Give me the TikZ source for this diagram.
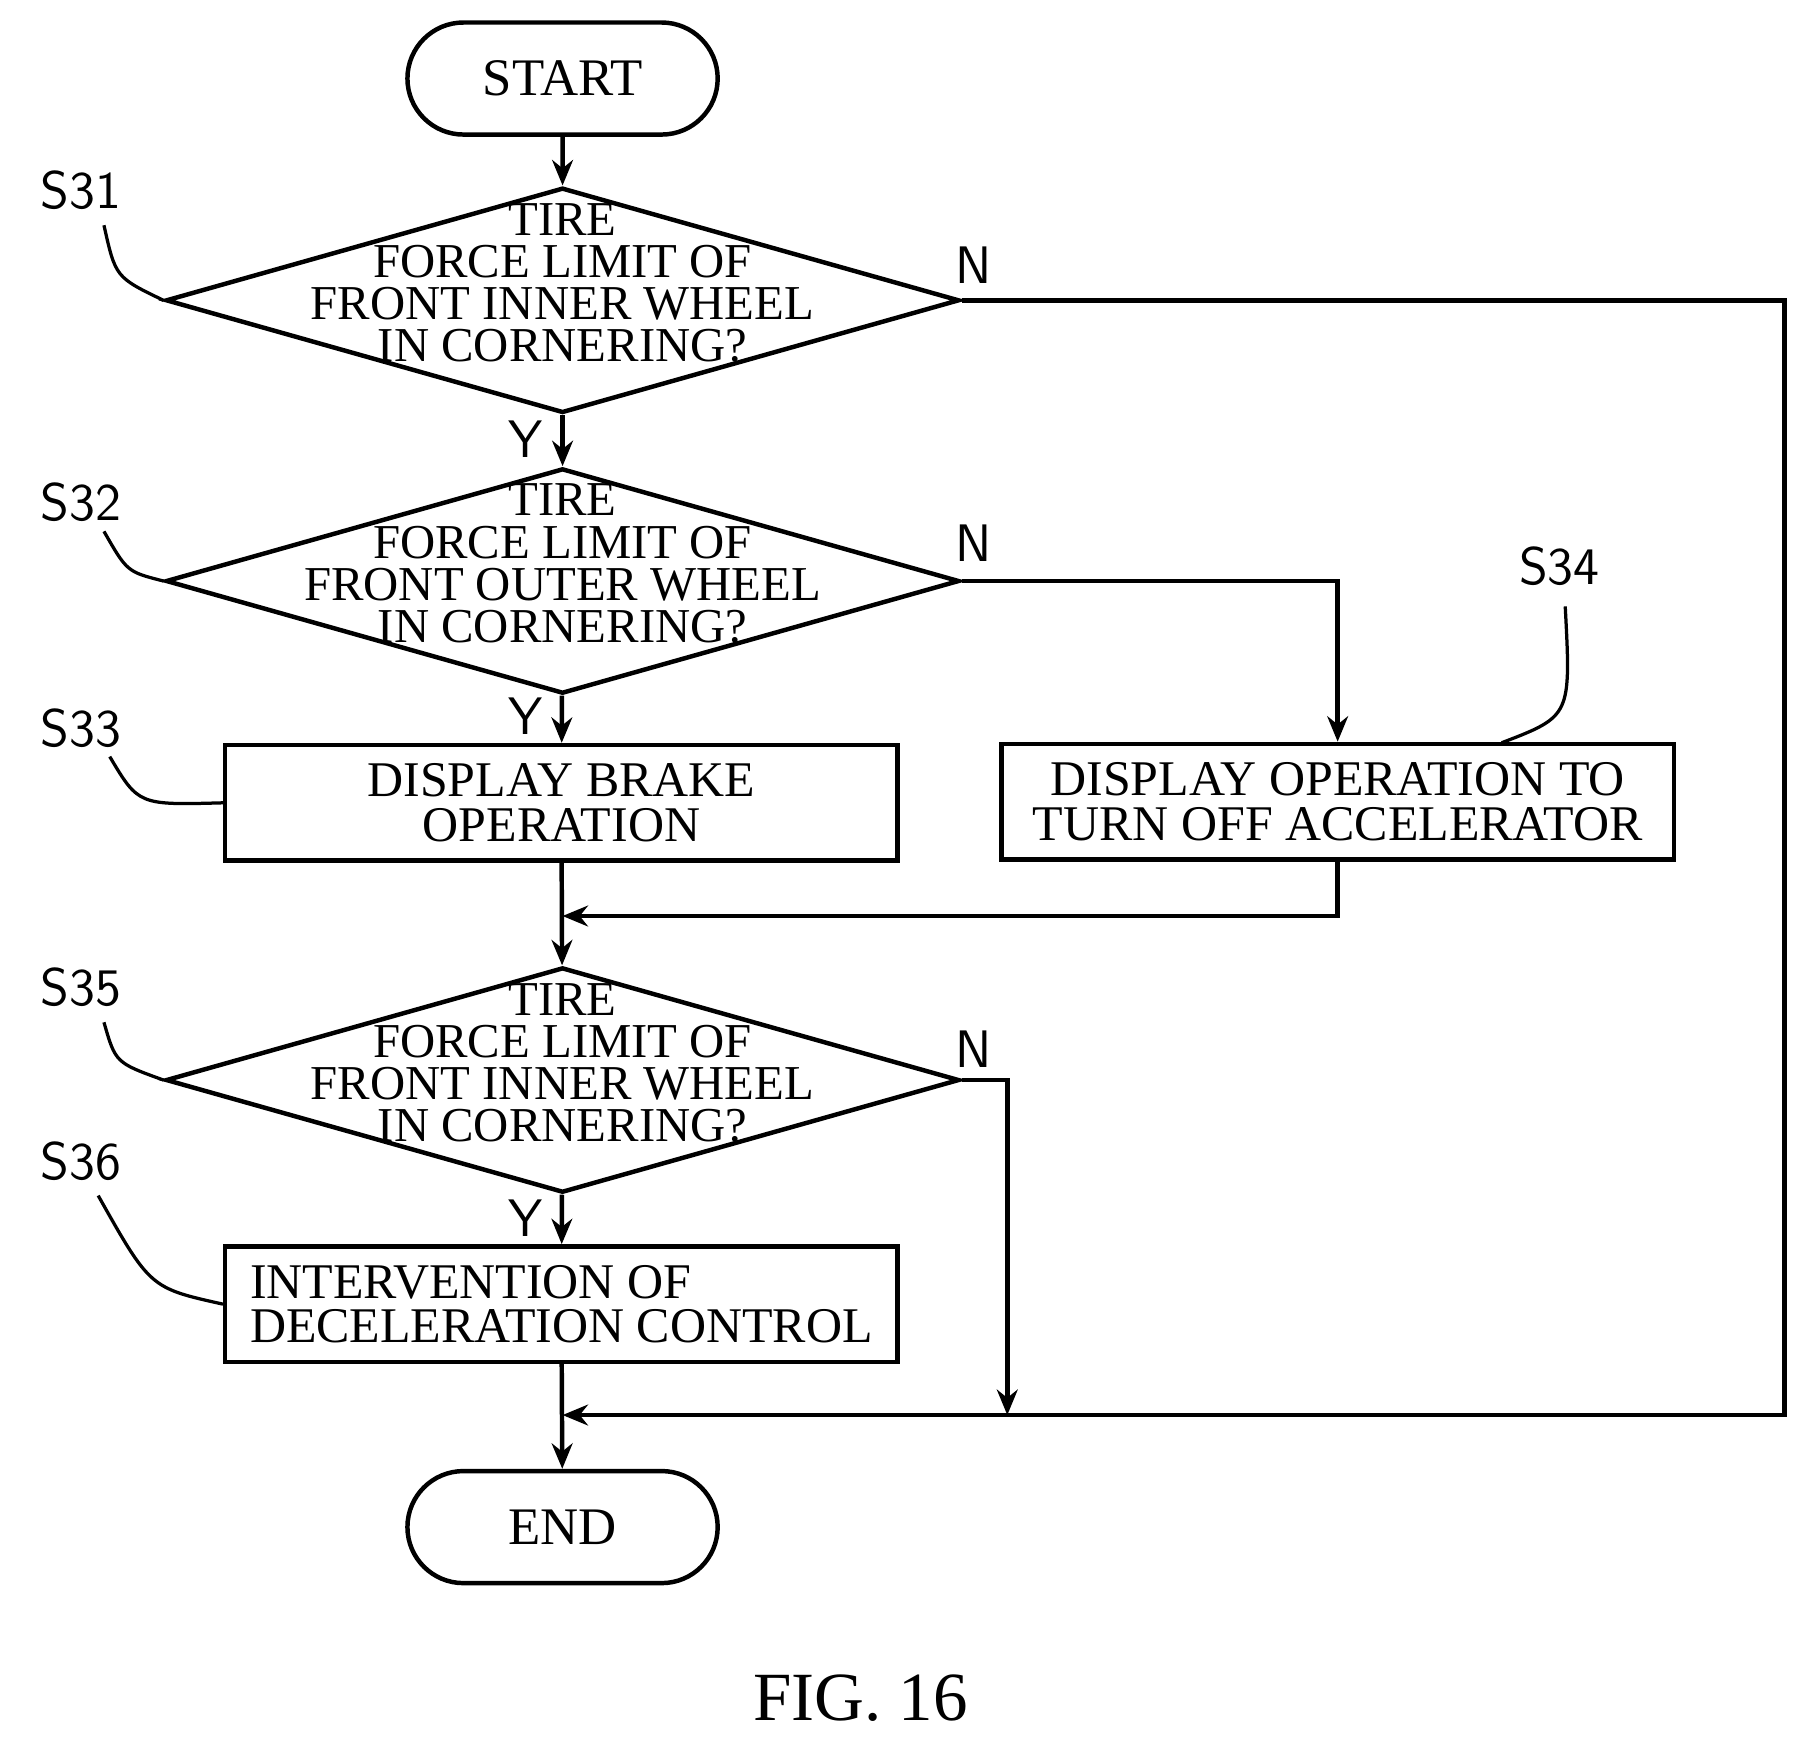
\documentclass[tikz,border=0pt]{standalone}
\usepackage{fontspec}
\setmainfont{Liberation Serif}
\usepackage{tikz}
\usetikzlibrary{shapes,arrows.meta,positioning,calc}

\begin{document}
\begin{tikzpicture}[
	line width=1.1pt,
	every node/.style = {font=\fontsize{13}{9.6}\selectfont},
	flow/.style = {-{Stealth[length=2.2mm,width=1.8mm]}},
	term/.style = {draw,rounded rectangle,minimum width=2.92cm,minimum height=0.97cm},
	dec/.style = {draw,diamond,inner sep=0,minimum width=6.87cm,minimum height=1.95cm},
	proc/.style = {draw,rectangle,inner sep=2pt,minimum width=5.82cm,minimum height=1.0cm,
		font=\fontsize{12.3}{11}\selectfont},
	dtext/.style = {align=center,font=\fontsize{12}{10.4}\selectfont},
	tag/.style = {font=\fontsize{13}{13}\sffamily},
	yn/.style = {font=\fontsize{13}{13}\sffamily}
	]
	\useasboundingbox (0,0) rectangle (15.6,-15.05);

	\node[term] (start) at (4.87,-0.68) {START};
	\node[dec] (d1) at (4.87,-2.60) {};
	\node[dtext] (d1t) at (4.87,-2.45) {TIRE\\FORCE LIMIT OF\\FRONT INNER WHEEL\\IN CORNERING?};
	\node[dec] (d2) at (4.87,-5.03) {};
	\node[dtext] (d2t) at (4.87,-4.88) {TIRE\\FORCE LIMIT OF\\FRONT OUTER WHEEL\\IN CORNERING?};
	\node[proc,align=center] (s33) at (4.86,-6.95) {DISPLAY BRAKE\\OPERATION};
	\node[proc,align=center] (s34) at (11.58,-6.94) {DISPLAY OPERATION TO\\TURN OFF ACCELERATOR};
	\node[dec] (d3) at (4.87,-9.35) {};
	\node[dtext] (d3t) at (4.87,-9.20) {TIRE\\FORCE LIMIT OF\\FRONT INNER WHEEL\\IN CORNERING?};
	\node[proc,align=left] (s36) at (4.86,-11.29) {INTERVENTION OF\\DECELERATION CONTROL};
	\node[term] (end) at (4.87,-13.22) {END};
	\node (fig) at (7.45,-14.70) {\fontsize{17}{17}\selectfont FIG. 16};

	% merge points
	\coordinate (m1) at (4.87,-7.93);
	\coordinate (m2) at (4.87,-12.25);
	\coordinate (r1) at (15.45,-2.60);
	\coordinate (r3) at (8.72,-9.35);

	% main flow
	\draw[flow] (start) -- (d1);
	\draw[flow] (d1) -- (d2);
	\draw[flow] (d2) -- (s33);
	\draw[flow] (s33) -- (d3);
	\draw[flow] (d3) -- (s36);
	\draw[flow] (s36) -- (end);
	\draw[flow] (d2.east) -| (s34.north);
	\draw[flow] (s34.south) |- (m1);
	\draw[flow] (d3.east) -- (r3) -- (r3 |- m2);
	\draw[flow] (d1.east) -- (r1) -- (r1 |- m2) -- (m2);

	% Y / N
	\node[yn] (y1) at (4.55,-3.80) {Y};
	\node[yn] (y2) at (4.55,-6.20) {Y};
	\node[yn] (y3) at (4.55,-10.55) {Y};
	\node[yn] (n1) at (8.43,-2.30) {N};
	\node[yn] (n2) at (8.43,-4.70) {N};
	\node[yn] (n3) at (8.43,-9.08) {N};

	% step tags
	\node[tag] (t31) at (0.70,-1.65) {S31};
	\node[tag] (t32) at (0.70,-4.35) {S32};
	\node[tag] (t33) at (0.70,-6.30) {S33};
	\node[tag] (t34) at (13.50,-4.90) {S34};
	\node[tag] (t35) at (0.70,-8.55) {S35};
	\node[tag] (t36) at (0.70,-10.05) {S36};
	\draw[line width=0.8pt] (0.90,-1.95) .. controls (1.0,-2.40) .. (d1.west);
	\draw[line width=0.8pt] (0.90,-4.60) .. controls (1.1,-4.95) .. (d2.west);
	\draw[line width=0.8pt] (0.95,-6.55) .. controls (1.2,-6.97) .. (s33.west);
	\draw[line width=0.8pt] (13.55,-5.25) .. controls (13.6,-6.20) .. (13.00,-6.43);
	\draw[line width=0.8pt] (0.90,-8.85) .. controls (1.0,-9.20) .. (d3.west);
	\draw[line width=0.8pt] (0.85,-10.35) .. controls (1.3,-11.15) .. (s36.west);
\end{tikzpicture}
\end{document}
